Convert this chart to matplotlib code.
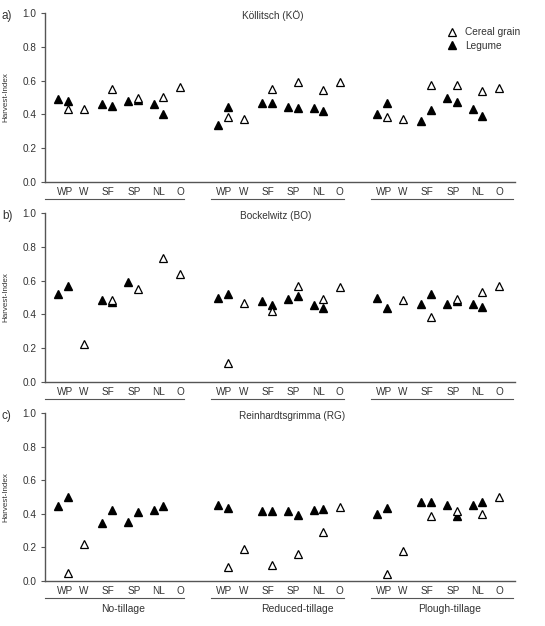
import numpy as np
import matplotlib
matplotlib.use("Agg")
import matplotlib.pyplot as plt
from matplotlib.transforms import blended_transform_factory

plt.rcParams["font.family"] = ["Liberation Sans", "DejaVu Sans"]

nan = np.nan
crops = ["WP", "W", "SF", "SP", "NL", "O"]
tillage = ["No-tillage", "Reduced-tillage", "Plough-tillage"]
sites = ["Köllitsch (KÖ)", "Bockelwitz (BO)", "Reinhardtsgrimma (RG)"]
panel_tags = ["a)", "b)", "c)"]

# harvest index per tillage (rows) and crop (columns)
# legume, first point of each mixture
ko_leg1 = [[0.49, nan, 0.46, 0.48, 0.46, nan],
           [0.34, nan, 0.47, 0.445, 0.44, nan],
           [0.405, nan, 0.36, 0.495, 0.43, nan]]
# legume, second point of each mixture
ko_leg2 = [[0.48, nan, 0.45, 0.485, 0.40, nan],
           [0.445, nan, 0.47, 0.44, 0.42, nan],
           [0.47, nan, 0.425, 0.475, 0.39, nan]]
ko_cer = [[0.43, 0.43, 0.55, 0.50, 0.505, 0.565],
          [0.385, 0.37, 0.55, 0.59, 0.545, 0.59],
          [0.385, 0.375, 0.575, 0.575, 0.54, 0.555]]

bo_leg1 = [[0.52, nan, 0.485, 0.59, nan, nan],
           [0.50, nan, 0.48, 0.49, 0.455, nan],
           [0.50, nan, 0.46, 0.46, 0.46, nan]]
bo_leg2 = [[0.57, nan, 0.475, nan, nan, nan],
           [0.52, nan, 0.455, 0.51, 0.44, nan],
           [0.435, nan, 0.52, 0.48, 0.445, nan]]
bo_cer = [[nan, 0.225, 0.485, 0.55, 0.735, 0.64],
          [0.11, 0.465, 0.42, 0.57, 0.49, 0.56],
          [nan, 0.485, 0.385, 0.49, 0.53, 0.57]]

rg_leg1 = [[0.445, nan, 0.345, 0.35, 0.42, nan],
           [0.455, nan, 0.415, 0.415, 0.42, nan],
           [0.40, nan, 0.47, 0.455, 0.455, nan]]
rg_leg2 = [[0.50, nan, 0.42, 0.41, 0.445, nan],
           [0.435, nan, 0.415, 0.39, 0.43, nan],
           [0.435, nan, 0.47, 0.385, 0.47, nan]]
rg_cer = [[0.05, 0.22, nan, nan, nan, nan],
          [0.085, 0.19, 0.095, 0.16, 0.29, 0.44],
          [0.04, 0.18, 0.385, 0.415, 0.40, 0.50]]

legume1 = [ko_leg1, bo_leg1, rg_leg1]
legume2 = [ko_leg2, bo_leg2, rg_leg2]
cereal = [ko_cer, bo_cer, rg_cer]

# layout (x positions in pixel-like units)
group_off = [0, 159.5, 319]
x_left = np.array([0, 26, 44, 70, 96, 122])
x_right = np.array([10, 26, 54, 80, 105, 122])
x_label = [7, 26, 50, 76, 101, 122]
line_span = [(-13, 126), (-6.5, 126.5), (-6, 136)]
group_name_x = [65, 79.5, 73]
title_x = [0.485, 0.49, 0.525]

W, H = 545, 626
fig = plt.figure(figsize=(W / 100, H / 100), dpi=100)
tops = [13, 213, 413]
bottoms = [182, 382, 581]
grey = "#555555"
txt = "#333333"

for i in range(3):
    ax = fig.add_axes([45 / W, 1 - bottoms[i] / H, 470 / W, (bottoms[i] - tops[i]) / H])
    for g in range(3):
        xs_l = x_left + group_off[g]
        xs_r = x_right + group_off[g]
        ax.plot(xs_r, cereal[i][g], "^", ms=6, mfc="white", mec="black", mew=0.9,
                ls="none", label="Cereal grain" if g == 0 else None, zorder=3)
        ax.plot(xs_l, legume1[i][g], "^", ms=6, color="black", ls="none",
                label="Legume" if g == 0 else None, zorder=4)
        ax.plot(xs_r, legume2[i][g], "^", ms=6, color="black", ls="none", zorder=2)

    ax.set_xlim(-13, 457)
    ax.set_ylim(0, 1.0)
    ax.set_yticks([0, 0.2, 0.4, 0.6, 0.8, 1.0])
    ax.set_yticklabels(["0.0", "0.2", "0.4", "0.6", "0.8", "1.0"])
    ax.set_xticks([])
    for s in ["top", "right"]:
        ax.spines[s].set_visible(False)
    for s in ["left", "bottom"]:
        ax.spines[s].set_color(grey)
        ax.spines[s].set_linewidth(1.0)
    ax.tick_params(axis="y", length=3, width=0.8, color=grey, labelsize=7.2,
                   labelcolor=txt, pad=3)
    ax.set_ylabel("Harvest-Index", fontsize=5.8, color=txt)
    ax.yaxis.set_label_coords(-0.076, 0.5)

    tr = blended_transform_factory(ax.transData, ax.transAxes)
    for g in range(3):
        for c, lab in enumerate(crops):
            ax.text(x_label[c] + group_off[g], -0.058, lab, transform=tr,
                    ha="center", va="center", fontsize=7.2, color=txt)
        x0, x1 = line_span[g]
        ax.plot([x0 + group_off[g] if g else x0, x1 + group_off[g]], [-0.10, -0.10],
                transform=tr, color=grey, lw=0.8, clip_on=False)
        if i == 2:
            ax.text(group_name_x[g] + group_off[g], -0.165, tillage[g],
                    transform=tr, ha="center", va="center", fontsize=7.5, color=txt)

    ax.text(title_x[i], 0.985, sites[i], transform=ax.transAxes, ha="center",
            va="center", fontsize=7.2, color=txt)
    fig.text(2 / W, 1 - (tops[i] + 3) / H, panel_tags[i], ha="left", va="center",
             fontsize=8.5, color=txt)

    if i == 0:
        ax.legend(loc="upper left", bbox_to_anchor=(0.845, 0.945), frameon=False,
                  fontsize=7.3, handlelength=1.0, handletextpad=0.8,
                  labelspacing=0.35, borderpad=0, labelcolor=txt)

fig.savefig("out.png", dpi=100)
